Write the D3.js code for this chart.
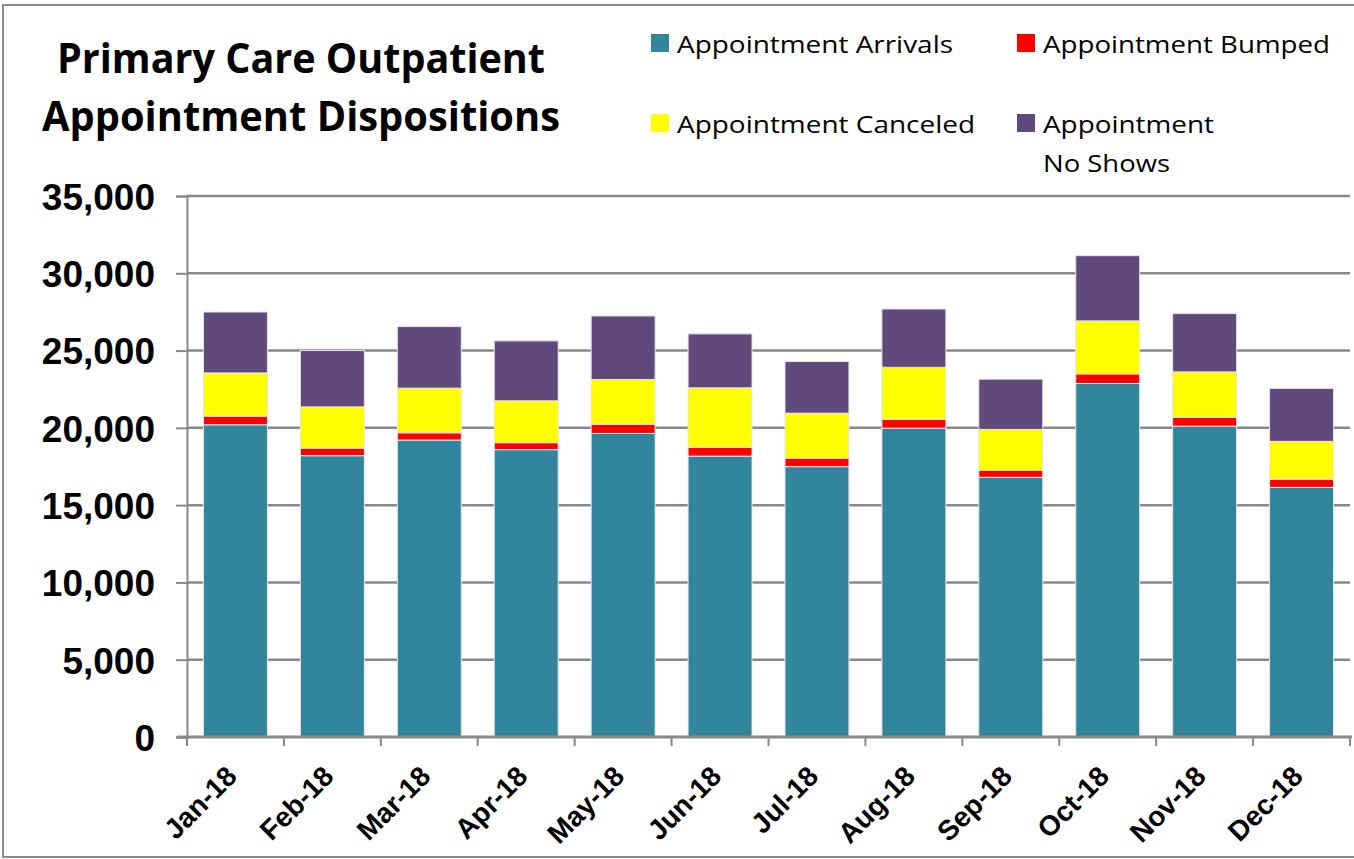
<!DOCTYPE html>
<html><head><meta charset="utf-8">
<script src="https://cdn.jsdelivr.net/npm/d3@7"></script>
<style>body{margin:0;background:#fff;} svg{display:block;}</style>
</head><body>
<svg id="c" width="1354" height="859"></svg>
<script>
const months = ["Jan-18","Feb-18","Mar-18","Apr-18","May-18","Jun-18","Jul-18","Aug-18","Sep-18","Oct-18","Nov-18","Dec-18"];
const arrivals = [20200,18200,19210,18590,19640,18170,17490,19980,16800,22870,20110,16150];
const bumped   = [555,490,470,450,580,560,550,560,450,620,560,530];
const canceled = [2800,2670,2890,2710,2910,3860,2910,3380,2650,3430,2950,2450];
const noShows  = [3940,3640,3980,3880,4110,3490,3340,3770,3250,4220,3770,3420];
const yTicks = [0,5000,10000,15000,20000,25000,30000,35000];
const seriesNames = ["Appointment Arrivals","Appointment Bumped","Appointment Canceled","Appointment No Shows"];
const colors = ["#31859C","#FF0000","#FFFF00","#604A7B"];

(function(){
const svg = d3.select("#c");
svg.append("rect").attr("x",3).attr("y",5).attr("width",1400).attr("height",852)
  .attr("fill","none").attr("stroke","#8a8a8a").attr("stroke-width",2);

const pL = 187, pR = 1350, pT = 196, pB = 737;
const x = d3.scaleBand().domain(months).range([pL,pR]).paddingInner(0.34).paddingOuter(0.17);
const y = d3.scaleLinear().domain([0,35000]).range([pB,pT]);

svg.append("g").selectAll("line").data(yTicks.filter(d=>d>0)).join("line")
  .attr("x1",pL).attr("x2",pR).attr("y1",d=>y(d)).attr("y2",d=>y(d))
  .attr("stroke","#888").attr("stroke-width",2.5);

const table = months.map((m,i)=>({m, a:arrivals[i], b:bumped[i], c:canceled[i], n:noShows[i]}));
const stack = d3.stack().keys(["a","b","c","n"])(table);
svg.append("g").selectAll("g").data(stack).join("g")
  .attr("fill",(d,i)=>colors[i])
  .selectAll("rect").data(d=>d).join("rect")
  .attr("x",d=>x(d.data.m)).attr("width",x.bandwidth())
  .attr("y",d=>y(d[1])).attr("height",d=>y(d[0])-y(d[1]))
  .attr("stroke","#e8e4ee").attr("stroke-width",1);

const yAxis = d3.axisLeft(y).tickValues(yTicks).tickFormat(d3.format(",")).tickSize(11).tickPadding(21);
const ya = svg.append("g").attr("transform",`translate(${pL},0)`).call(yAxis);
ya.select(".domain").attr("stroke","#888").attr("stroke-width",2);
ya.selectAll(".tick line").attr("stroke","#888").attr("stroke-width",2);
ya.selectAll("text").attr("font-family","Liberation Sans, Arial, sans-serif").attr("font-weight","bold")
  .attr("font-size",37).attr("fill","#000").attr("dy","0.36em");

const xa = svg.append("g").attr("transform",`translate(0,${pB})`);
xa.append("line").attr("x1",pL-10).attr("x2",pR+2).attr("stroke","#888").attr("stroke-width",3);
const step = x.step();
xa.selectAll(".xt").data(d3.range(months.length+1)).join("line")
  .attr("x1",i=>pL+i*step).attr("x2",i=>pL+i*step).attr("y1",0).attr("y2",9)
  .attr("stroke","#888").attr("stroke-width",2);
svg.append("g").selectAll("text").data(months).join("text")
  .attr("transform",d=>`translate(${x(d)+x.bandwidth()/2+3},${pB+41}) rotate(-45)`)
  .attr("text-anchor","end")
  .attr("font-family","Liberation Sans, Arial, sans-serif").attr("font-weight","bold")
  .attr("font-size",28).attr("fill","#000").text(d=>d);

const title = svg.append("text").attr("text-anchor","middle")
  .attr("font-family","Open Sans, sans-serif").attr("font-weight","bold").attr("font-size",42).attr("fill","#000");
title.append("tspan").attr("x",301).attr("y",73).attr("textLength",488).attr("lengthAdjust","spacingAndGlyphs").text("Primary Care Outpatient");
title.append("tspan").attr("x",301).attr("y",131).attr("textLength",518).attr("lengthAdjust","spacingAndGlyphs").text("Appointment Dispositions");

const legPos = [[651,34],[1017,34],[651,114],[1017,114]];
const legLen = [[276],[287],[298],[171,127]];
const lg = svg.append("g").selectAll("g").data(seriesNames).join("g")
  .attr("transform",(d,i)=>`translate(${legPos[i][0]},${legPos[i][1]})`);
lg.append("rect").attr("width",18).attr("height",18).attr("fill",(d,i)=>colors[i]);
lg.each(function(d,i){
  const t = d3.select(this).append("text")
    .attr("font-family","Open Sans, sans-serif").attr("font-size",24).attr("fill","#000");
  const lines = i===3 ? ["Appointment","No Shows"] : [d];
  lines.forEach((s,k)=>{
    t.append("tspan").attr("x",26).attr("y",19+k*39)
      .attr("textLength",legLen[i][k]).attr("lengthAdjust","spacingAndGlyphs").text(s);
  });
});
})();
</script>
</body></html>
